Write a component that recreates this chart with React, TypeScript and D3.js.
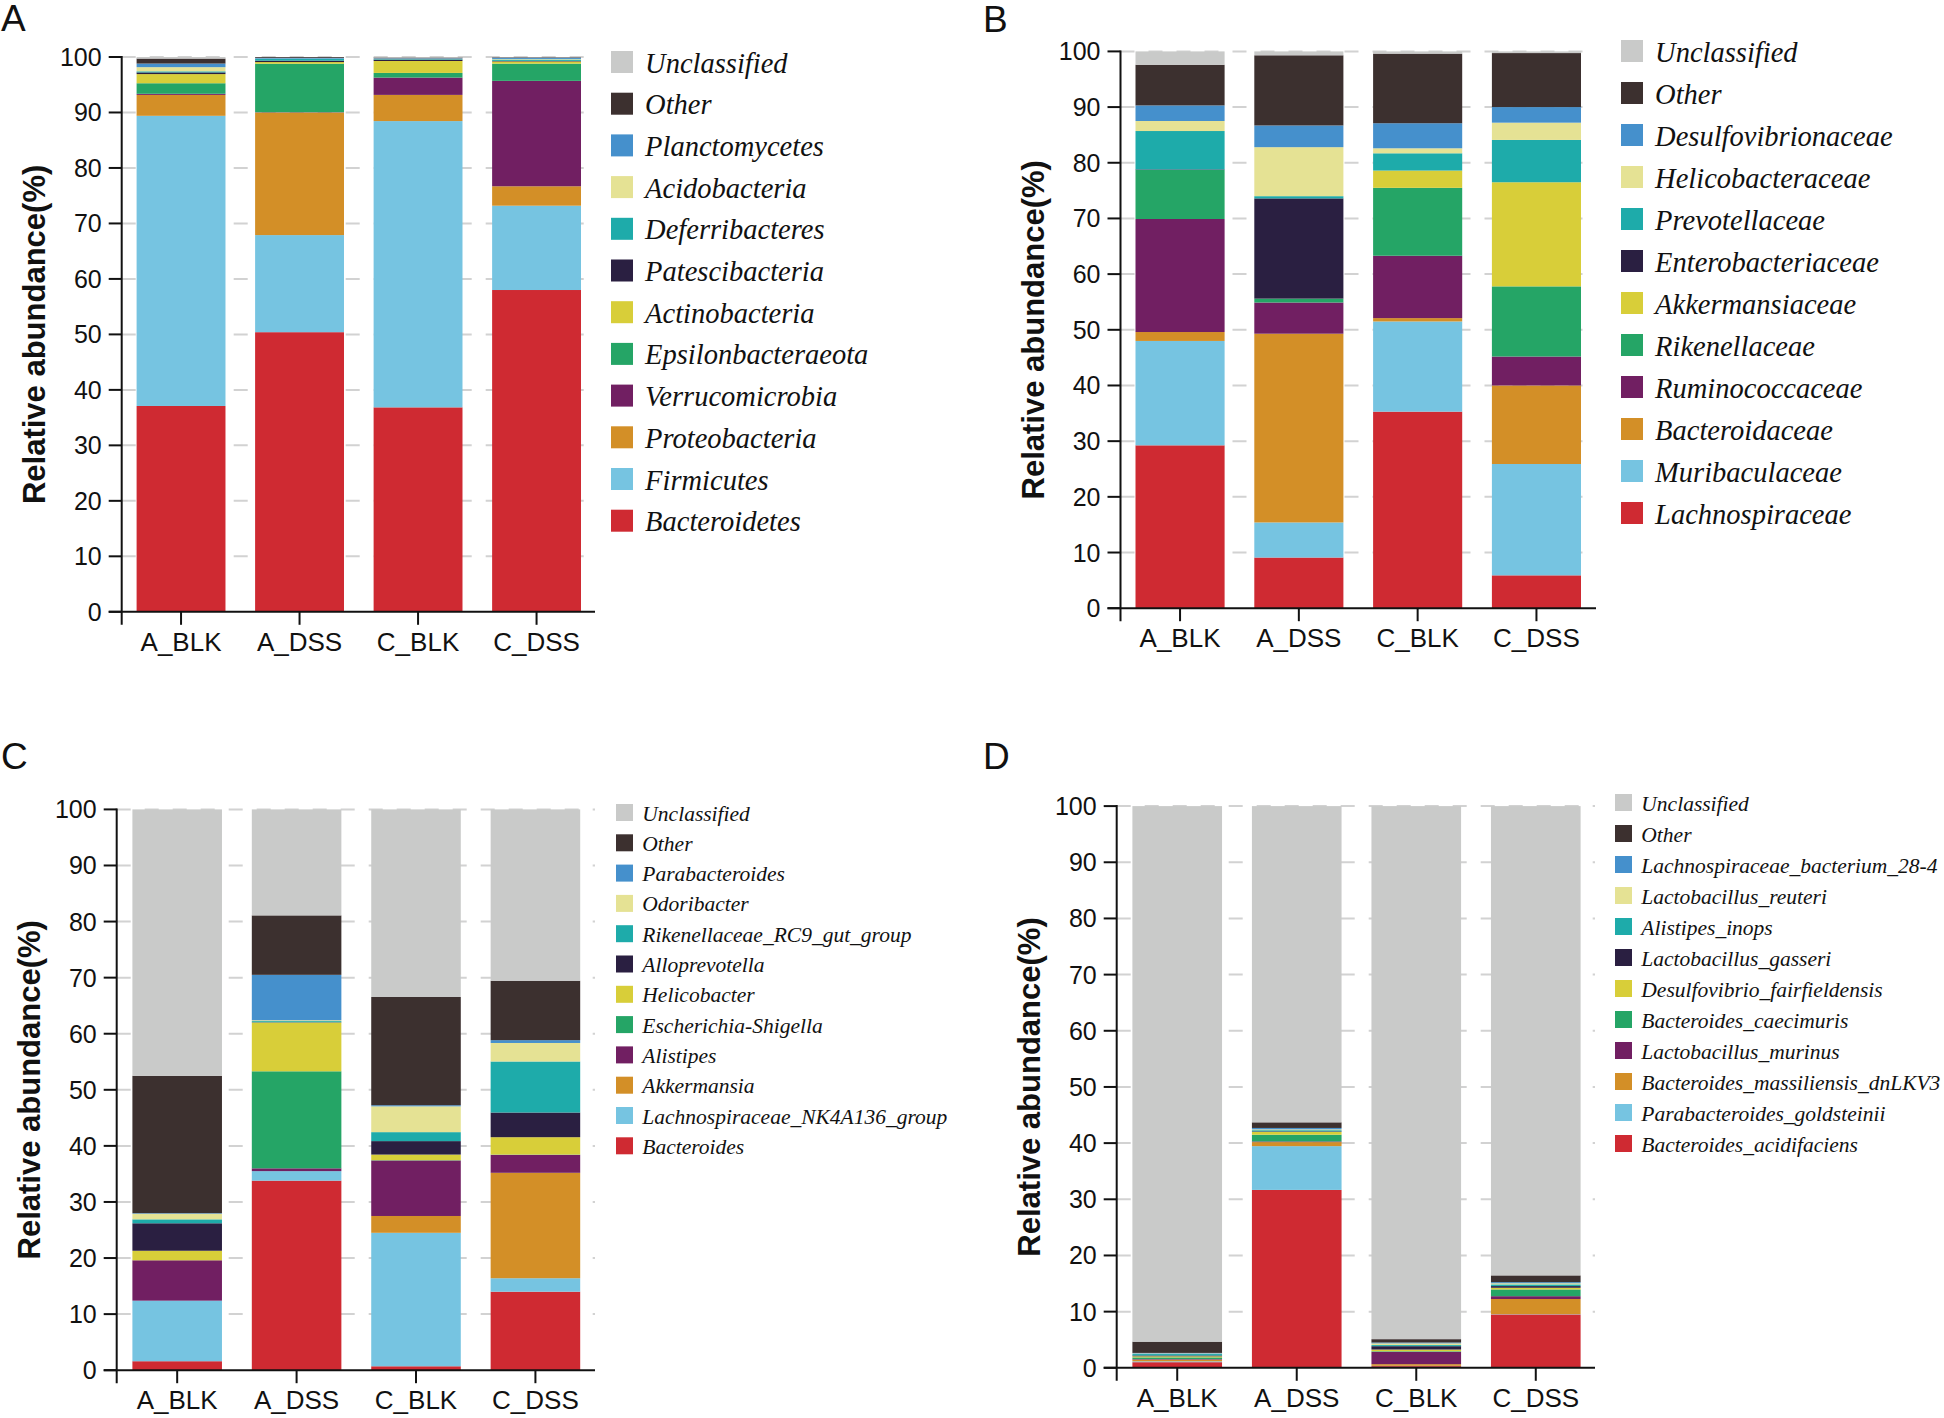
import React from 'react'
import * as d3 from 'd3'

// sample groups (x axis)
const groups = ['A_BLK', 'A_DSS', 'C_BLK', 'C_DSS']
const yTicks = [0, 10, 20, 30, 40, 50, 60, 70, 80, 90, 100]

// stacking order, bottom -> top; the legend lists them top -> bottom
const palette = [
  '#cf2a32', '#76c4e1', '#d38f27', '#711f62', '#25a566', '#d8ce39',
  '#2a1f41', '#1eabaa', '#e5e294', '#4590cc', '#3c302f', '#c9cac9',
]

// A: phylum
const phylumTaxa = [
  'Bacteroidetes', 'Firmicutes', 'Proteobacteria', 'Verrucomicrobia', 'Epsilonbacteraeota',
  'Actinobacteria', 'Patescibacteria', 'Deferribacteres', 'Acidobacteria', 'Planctomycetes',
  'Other', 'Unclassified',
]
const phylumABLK = [37.1, 52.3, 3.77, 0.2, 1.9, 1.65, 0.3, 0.2, 0.75, 0.65, 0.9, 0.28]
const phylumADSS = [50.4, 17.5, 22.1, 0.05, 8.74, 0.3, 0.25, 0.3, 0.05, 0.15, 0.15, 0.01]
const phylumCBLK = [36.85, 51.6, 4.72, 3.12, 0.84, 2.15, 0.25, 0.1, 0.05, 0.1, 0.12, 0.1]
const phylumCDSS = [58.0, 15.2, 3.5, 19.0, 3.1, 0.4, 0.1, 0.25, 0.1, 0.2, 0.1, 0.05]

// B: family
const familyTaxa = [
  'Lachnospiraceae', 'Muribaculaceae', 'Bacteroidaceae', 'Ruminococcaceae', 'Rikenellaceae',
  'Akkermansiaceae', 'Enterobacteriaceae', 'Prevotellaceae', 'Helicobacteraceae',
  'Desulfovibrionaceae', 'Other', 'Unclassified',
]
const familyABLK = [29.25, 18.75, 1.6, 20.3, 8.8, 0, 0.1, 6.9, 1.8, 2.8, 7.3, 2.4]
const familyADSS = [9.1, 6.3, 33.9, 5.6, 0.7, 0, 18.0, 0.4, 8.8, 3.9, 12.6, 0.7]
const familyCBLK = [35.3, 16.2, 0.6, 11.2, 12.2, 3.1, 0, 3.1, 0.9, 4.5, 12.5, 0.4]
const familyCDSS = [5.9, 20.0, 14.1, 5.2, 12.6, 18.7, 0, 7.6, 3.1, 2.8, 9.7, 0.3]

// C: genus
const genusTaxa = [
  'Bacteroides', 'Lachnospiraceae_NK4A136_group', 'Akkermansia', 'Alistipes',
  'Escherichia-Shigella', 'Helicobacter', 'Alloprevotella', 'Rikenellaceae_RC9_gut_group',
  'Odoribacter', 'Parabacteroides', 'Other', 'Unclassified',
]
const genusABLK = [1.6, 10.8, 0, 7.2, 0, 1.7, 4.9, 0.7, 1.0, 0.1, 24.5, 47.5]
const genusADSS = [33.8, 1.7, 0, 0.5, 17.3, 8.7, 0.05, 0.2, 0.15, 8.1, 10.6, 18.9]
const genusCBLK = [0.7, 23.8, 3.0, 9.9, 0.05, 1.0, 2.4, 1.6, 4.6, 0.2, 19.3, 33.45]
const genusCDSS = [14.0, 2.4, 18.8, 3.2, 0.05, 3.1, 4.4, 9.1, 3.3, 0.5, 10.6, 30.55]

// D: species
const speciesTaxa = [
  'Bacteroides_acidifaciens', 'Parabacteroides_goldsteinii', 'Bacteroides_massiliensis_dnLKV3',
  'Lactobacillus_murinus', 'Bacteroides_caecimuris', 'Desulfovibrio_fairfieldensis',
  'Lactobacillus_gasseri', 'Alistipes_inops', 'Lactobacillus_reuteri',
  'Lachnospiraceae_bacterium_28-4', 'Other', 'Unclassified',
]
const speciesABLK = [1.0, 0.15, 0.3, 0.1, 0.3, 0.2, 0.15, 0.25, 0.1, 0.1, 2.0, 95.35]
const speciesADSS = [31.67, 7.79, 0.72, 0.12, 1.2, 0.5, 0.1, 0.2, 0.15, 0.25, 1.0, 56.3]
const speciesCBLK = [0.3, 0.05, 0.3, 2.2, 0.1, 0.3, 0.6, 0.2, 0.3, 0.15, 0.6, 94.9]
const speciesCDSS = [9.5, 0.05, 2.7, 0.5, 1.2, 0.3, 0.3, 0.3, 0.2, 0.2, 1.2, 83.55]

const sans = 'Liberation Sans, Arial, sans-serif'
const serif = 'Liberation Serif, Times New Roman, serif'

interface PanelProps {
  letter: string
  letterPos: [number, number]
  taxa: string[]
  rows: number[][]
  axisX: number
  axisRight: number
  y0: number
  y100: number
  barRange: [number, number]
  legendX: number
  legendY: number
  legendStep: number
  swatch: number
  legendFont: number
}

function Panel(p: PanelProps) {
  const y = d3.scaleLinear().domain([0, 100]).range([p.y0, p.y100])
  const x = d3.scaleBand().domain(groups).range(p.barRange).paddingInner(0.25).paddingOuter(0)

  const table = groups.map((g, i) => {
    const o: any = {group: g}
    p.taxa.forEach((t, j) => (o[t] = p.rows[i][j]))
    return o
  })
  const series = d3.stack().keys(p.taxa)(table)
  const color = d3.scaleOrdinal<string, string>().domain(p.taxa).range(palette)
  const legendItems = p.taxa.slice().reverse()

  return (
    <g>
      <text x={p.letterPos[0]} y={p.letterPos[1]} fontFamily={sans} fontSize={37} fill="#111">
        {p.letter}
      </text>

      {/* dashed grid */}
      {yTicks.slice(1).map(t => (
        <line
          key={'g' + t}
          x1={p.axisX}
          x2={p.axisRight}
          y1={y(t)}
          y2={y(t)}
          stroke="#d2d2d2"
          strokeWidth={2}
          strokeDasharray="14 14"
        />
      ))}

      {/* stacked bars */}
      {series.map(s => (
        <g key={s.key} fill={color(s.key)}>
          {s.map((d: any) =>
            d[1] - d[0] > 0 ? (
              <rect
                key={d.data.group}
                x={x(d.data.group)}
                width={x.bandwidth()}
                y={y(d[1])}
                height={y(d[0]) - y(d[1])}
              />
            ) : null,
          )}
        </g>
      ))}

      {/* y axis */}
      <line x1={p.axisX} x2={p.axisX} y1={y(100) - 1} y2={p.y0 + 13} stroke="#111" strokeWidth={2} />
      {yTicks.map(t => (
        <g key={'t' + t}>
          <line x1={p.axisX - 13} x2={p.axisX} y1={y(t)} y2={y(t)} stroke="#111" strokeWidth={2} />
          <text
            x={p.axisX - 20}
            y={y(t)}
            textAnchor="end"
            dominantBaseline="central"
            fontFamily={sans}
            fontSize={25}
            fill="#111">
            {t}
          </text>
        </g>
      ))}
      <text
        transform={`translate(${p.axisX - 87},${(p.y0 + p.y100) / 2}) rotate(-90)`}
        textAnchor="middle"
        dominantBaseline="central"
        fontFamily={sans}
        fontWeight="bold"
        fontSize={31}
        fill="#111">
        Relative abundance(%)
      </text>

      {/* x axis */}
      <line x1={p.axisX - 13} x2={p.axisRight} y1={p.y0} y2={p.y0} stroke="#111" strokeWidth={2} />
      {groups.map(g => {
        const cx = (x(g) as number) + x.bandwidth() / 2
        return (
          <g key={'x' + g}>
            <line x1={cx} x2={cx} y1={p.y0} y2={p.y0 + 13} stroke="#111" strokeWidth={2} />
            <text x={cx} y={p.y0 + 39} textAnchor="middle" fontFamily={sans} fontSize={26} fill="#111">
              {g}
            </text>
          </g>
        )
      })}

      {/* legend */}
      {legendItems.map((t, i) => {
        const top = p.legendY + i * p.legendStep
        return (
          <g key={'l' + t}>
            <rect x={p.legendX} y={top} width={p.swatch} height={p.swatch} fill={color(t)} />
            <text
              x={p.legendX + p.swatch + p.swatch * 0.55}
              y={top + p.swatch - 0.5}
              fontFamily={serif}
              fontStyle="italic"
              fontSize={p.legendFont}
              fill="#111">
              {t}
            </text>
          </g>
        )
      })}
    </g>
  )
}

export default function App() {
  return (
    <svg
      width={1944}
      height={1418}
      style={{position: 'absolute', left: 0, top: 0, background: '#fff'}}>
      <rect width={1944} height={1418} fill="#fff" />
      <Panel
        letter="A"
        letterPos={[1, 31]}
        taxa={phylumTaxa}
        rows={[phylumABLK, phylumADSS, phylumCBLK, phylumCDSS]}
        axisX={121.7}
        axisRight={595}
        y0={611.8}
        y100={57}
        barRange={[136.6, 581]}
        legendX={611}
        legendY={51}
        legendStep={41.7}
        swatch={22}
        legendFont={28.5}
      />
      <Panel
        letter="B"
        letterPos={[983, 32]}
        taxa={familyTaxa}
        rows={[familyABLK, familyADSS, familyCBLK, familyCDSS]}
        axisX={1120.5}
        axisRight={1596}
        y0={608.2}
        y100={51.4}
        barRange={[1135.5, 1581]}
        legendX={1621}
        legendY={40}
        legendStep={42}
        swatch={22}
        legendFont={28.5}
      />
      <Panel
        letter="C"
        letterPos={[1, 769]}
        taxa={genusTaxa}
        rows={[genusABLK, genusADSS, genusCBLK, genusCDSS]}
        axisX={116.7}
        axisRight={595}
        y0={1370.2}
        y100={809.4}
        barRange={[132.4, 580.2]}
        legendX={616}
        legendY={804}
        legendStep={30.3}
        swatch={17}
        legendFont={21.5}
      />
      <Panel
        letter="D"
        letterPos={[983, 769]}
        taxa={speciesTaxa}
        rows={[speciesABLK, speciesADSS, speciesCBLK, speciesCDSS]}
        axisX={1116.7}
        axisRight={1595}
        y0={1367.8}
        y100={806.1}
        barRange={[1132.4, 1580.6]}
        legendX={1615}
        legendY={794}
        legendStep={31}
        swatch={17}
        legendFont={21.5}
      />
    </svg>
  )
}
